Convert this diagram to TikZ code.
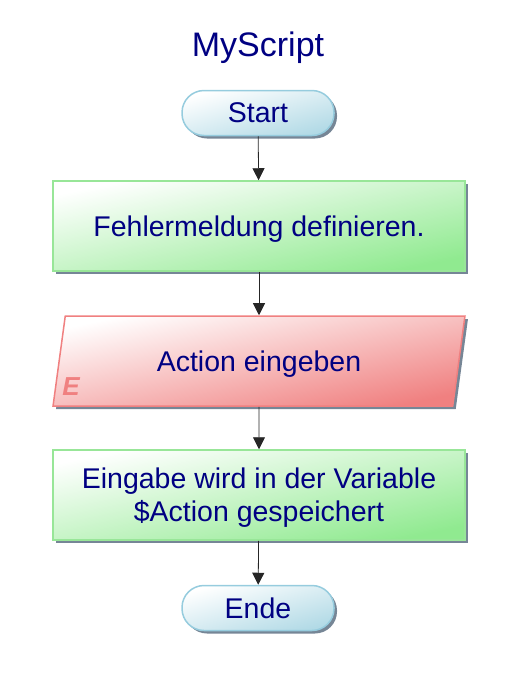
\documentclass[tikz,border=0pt]{standalone}
\usepackage{fontspec}
\setmainfont{Liberation Sans}
\usetikzlibrary{shapes.geometric,shadows,arrows.meta}
\definecolor{txtblue}{RGB}{0,0,130}
\definecolor{termfill}{RGB}{178,218,230}
\definecolor{termline}{RGB}{150,204,222}
\definecolor{stepfill}{RGB}{144,234,144}
\definecolor{stepline}{RGB}{152,230,152}
\definecolor{iofill}{RGB}{240,128,128}
\definecolor{shadegray}{RGB}{118,134,150}

\begin{document}
\begin{tikzpicture} [x=1pt, y=-1pt]
\tikzstyle{every node}=[text=txtblue, font=\fontsize{28.5}{33}\selectfont];
\tikzstyle{shade}=[drop shadow={shadow xshift=3pt, shadow yshift=-3pt, fill=shadegray, opacity=1}];
\tikzstyle{term}=[shade, draw=termline, line width=1.5pt, rounded corners=22pt, top color=white, middle color=termfill!65, bottom color=termfill, shading angle=16, minimum width=152pt, minimum height=45pt];
\tikzstyle{stepbox}=[shade, draw=stepline, line width=1.5pt, top color=white, middle color=stepfill!62, bottom color=stepfill, shading angle=12, minimum width=412pt, minimum height=90pt, text depth=0pt, align=center];
\tikzstyle{iobox}=[shade, draw=iofill, line width=1.5pt, top color=white, middle color=iofill!58, bottom color=iofill, shading angle=12, trapezium, trapezium left angle=76.3, trapezium right angle=103.7, trapezium stretches=true, minimum width=412pt, minimum height=90pt, text depth=0pt];
\tikzstyle{flow}=[draw=black!85, line width=0.8pt, -{Triangle[length=12pt, width=12pt]}];
\useasboundingbox (0, 0) rectangle (517, 675);
\node[font=\fontsize{34}{40}\selectfont] (title) at (258, 48) {MyScript};
\node[term] (start) at (258, 113) {Start};
\node[stepbox] (s1) at (259, 226) {Fehlermeldung definieren.};
\node[iobox] (in) at (259, 361) {Action eingeben};
\node[text=iofill, font=\fontsize{26}{30}\selectfont\bfseries\itshape] (tag) at (71, 387) {E};
\node[stepbox] (s2) at (259, 495) {Eingabe wird in der Variable\\\$Action gespeichert};
\node[term] (stop) at (258, 608) {Ende};
\draw[flow] (start) -- (s1);
\draw[flow] (s1) -- (in);
\draw[flow] (in) -- (s2);
\draw[flow] (s2) -- (stop);
\end{tikzpicture}
\end{document}
